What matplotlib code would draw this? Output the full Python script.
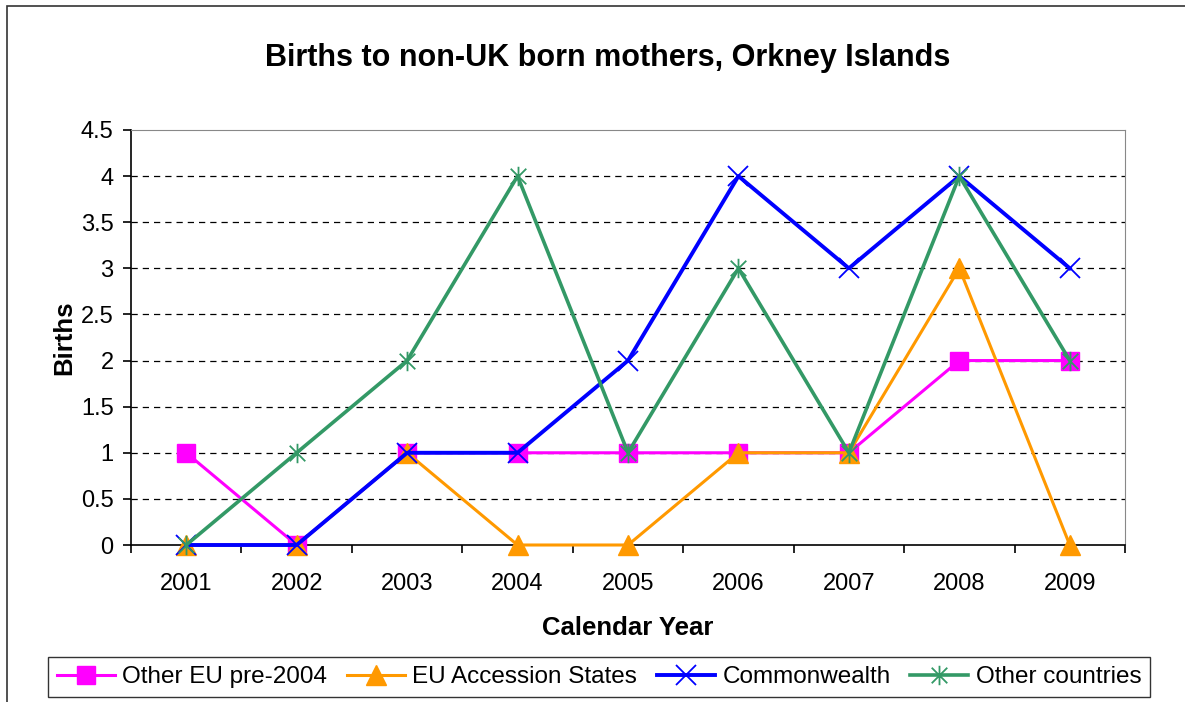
import numpy as np
import matplotlib.pyplot as plt
from matplotlib.path import Path
from matplotlib.patches import Rectangle

plt.rcParams['font.family'] = ['Liberation Sans', 'DejaVu Sans']

years = ['2001', '2002', '2003', '2004', '2005', '2006', '2007', '2008', '2009']
other_eu = [1, 0, 1, 1, 1, 1, 1, 2, 2]
eu_accession = [0, 0, 1, 0, 0, 1, 1, 3, 0]
commonwealth = [0, 0, 1, 1, 2, 4, 3, 4, 3]
other_countries = [0, 1, 2, 4, 1, 3, 1, 4, 2]

# excel style star: an x with a vertical bar through it
star = Path([(-1, -1), (1, 1), (-1, 1), (1, -1), (0, -1.25), (0, 1.25)],
            [Path.MOVETO, Path.LINETO, Path.MOVETO, Path.LINETO, Path.MOVETO, Path.LINETO])

fig = plt.figure(figsize=(11.85, 7.02), dpi=100)
ax = fig.add_axes([131 / 1185, 157 / 702, 994 / 1185, 415 / 702])

# outer chart frame (partly cropped like the original)
fig.patches.append(Rectangle((7 / 1185, -0.1), 1.2, (702 - 6) / 702 + 0.1,
                             transform=fig.transFigure, fill=False,
                             edgecolor='#333333', linewidth=1.2))

x = np.arange(len(years))
ax.plot(x, other_eu, color='#FF00FF', lw=2.2, marker='s', ms=12.5, label='Other EU pre-2004', zorder=3, clip_on=False)
ax.plot(x, eu_accession, color='#FF9900', lw=2.2, marker='^', ms=15, label='EU Accession States', zorder=3, clip_on=False)
ax.plot(x, commonwealth, color='#0000FF', lw=2.8, marker='x', ms=14, mew=1.3, label='Commonwealth', zorder=4, clip_on=False)
ax.plot(x, other_countries, color='#339966', lw=2.6, marker=star, ms=14, mew=1.3, label='Other countries', zorder=5, clip_on=False)

ax.set_xlim(-0.5, len(years) - 0.5)
ax.set_ylim(0, 4.5)
ax.set_yticks(np.arange(0, 4.51, 0.5))
ax.set_yticklabels(['0', '0.5', '1', '1.5', '2', '2.5', '3', '3.5', '4', '4.5'])
ax.set_xticks(x)
ax.set_xticklabels(years)
ax.set_xticks(np.arange(-0.5, len(years)), minor=True)
ax.tick_params(axis='x', which='major', length=0, pad=20, labelsize=17)
ax.tick_params(axis='x', which='minor', length=5.5, width=1.2, direction='out')
ax.tick_params(axis='y', length=5.5, width=1.2, direction='out', pad=7, labelsize=17)

for yv in np.arange(0.5, 4.5, 0.5):
    ax.axhline(yv, color='black', lw=0.9, ls=(0, (5, 4)), zorder=1)

ax.spines['top'].set_color('#888888')
ax.spines['right'].set_color('#888888')
ax.spines['left'].set_linewidth(1.2)
ax.spines['bottom'].set_linewidth(1.2)

ax.set_xlabel('Calendar Year', fontsize=18.5, fontweight='bold', labelpad=15)
ax.set_ylabel('Births', fontsize=18.5, fontweight='bold', labelpad=3)
fig.text(608 / 1185, 1 - 58 / 702, 'Births to non-UK born mothers, Orkney Islands',
         ha='center', va='center', fontsize=22, fontweight='bold')

leg = fig.legend(loc='center', bbox_to_anchor=(599 / 1185, 1 - 677 / 702), ncol=4,
                 fontsize=17.5, frameon=True, fancybox=False, edgecolor='black',
                 handlelength=2.4, handletextpad=0.3, columnspacing=0.8, borderpad=0.35)
leg.get_frame().set_linewidth(1.0)

fig.savefig('out.png', dpi=100)
